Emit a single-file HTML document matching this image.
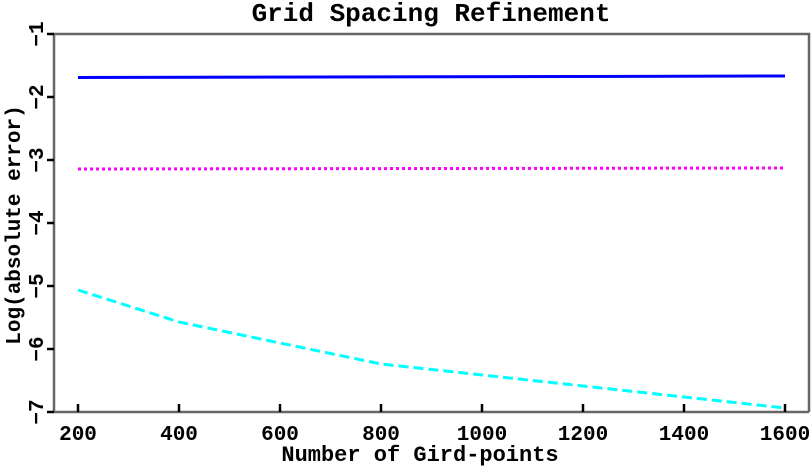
<!DOCTYPE html>
<html><head><style>body{margin:0;background:#fff}svg{display:block}</style></head><body>
<svg width="811" height="467" xmlns="http://www.w3.org/2000/svg" font-family="Liberation Mono, monospace" font-weight="bold">
<text x="431" y="21" font-size="26" text-anchor="middle">Grid Spacing Refinement</text>
<polyline points="54,412 54,34 809,34 809,412" fill="none" stroke="#666" stroke-width="2.5"/>
<line x1="54" y1="412" x2="809" y2="412" stroke="#666" stroke-width="2.5"/>
<g stroke="#000" stroke-width="2.5">
<line x1="47" y1="34" x2="54" y2="34"/><line x1="47" y1="97" x2="54" y2="97"/><line x1="47" y1="160" x2="54" y2="160"/><line x1="47" y1="223" x2="54" y2="223"/><line x1="47" y1="286" x2="54" y2="286"/><line x1="47" y1="349" x2="54" y2="349"/><line x1="47" y1="412" x2="54" y2="412"/>
<line x1="78" y1="412" x2="78" y2="404"/><line x1="179" y1="412" x2="179" y2="404"/><line x1="280" y1="412" x2="280" y2="404"/><line x1="381" y1="412" x2="381" y2="404"/><line x1="482" y1="412" x2="482" y2="404"/><line x1="583" y1="412" x2="583" y2="404"/><line x1="684" y1="412" x2="684" y2="404"/><line x1="785" y1="412" x2="785" y2="404"/>
</g>
<g font-size="21" text-anchor="middle">
<text x="78" y="440">200</text><text x="179" y="440">400</text><text x="280" y="440">600</text><text x="381" y="440">800</text><text x="482" y="440">1000</text><text x="583" y="440">1200</text><text x="684" y="440">1400</text><text x="785" y="440">1600</text>
</g>
<g font-size="21" text-anchor="middle">
<text transform="translate(43,34) rotate(-90)">−1</text>
<text transform="translate(43,97) rotate(-90)">−2</text>
<text transform="translate(43,160) rotate(-90)">−3</text>
<text transform="translate(43,223) rotate(-90)">−4</text>
<text transform="translate(43,286) rotate(-90)">−5</text>
<text transform="translate(43,349) rotate(-90)">−6</text>
<text transform="translate(43,412) rotate(-90)">−7</text>
</g>
<text x="420" y="461" font-size="22" text-anchor="middle">Number of Gird-points</text>
<text transform="translate(20,225) rotate(-90)" font-size="21" text-anchor="middle">Log(absolute error)</text>
<polyline points="78,77.5 785,76" fill="none" stroke="#0000ff" stroke-width="3"/>
<polyline points="78,169 785,168" fill="none" stroke="#ff00ff" stroke-width="3" stroke-dasharray="3,3"/>
<polyline points="78,290 179,322 381,364 583,386 785,408" fill="none" stroke="#00ffff" stroke-width="3" stroke-dasharray="10,5"/>
</svg>
</body></html>
